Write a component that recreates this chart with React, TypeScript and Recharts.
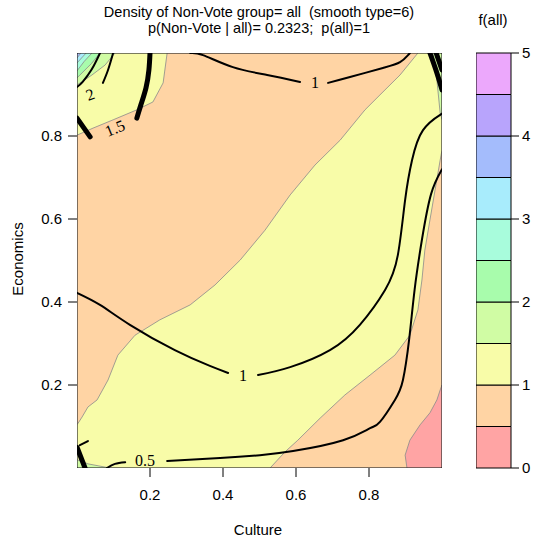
import React from 'react';
import { ComposedChart, Scatter, XAxis, YAxis, BarChart, Bar, Curve } from 'recharts';

// level colours, 0 -> 5 in steps of 0.5
const LEVEL_COLORS = ['#FFA4A4', '#FFD4A4', '#F8FCA8', '#D0FCA4', '#A8FCAC', '#A8FCDC', '#A8ECFC', '#A4BCFC', '#B8A4FC', '#ECA8FC'];
const LEVEL_TICKS = [0, 1, 2, 3, 4, 5];
const AXIS_TICKS = [0.2, 0.4, 0.6, 0.8];

// filled regions [x, y] in data units (Culture, Economics)
const panel = [[0, 0], [1, 0], [1, 1], [0, 1]];
const yellowBand = [
  [0, 0.104], [0.014, 0.123], [0.03, 0.147], [0.055, 0.164], [0.085, 0.212], [0.112, 0.272], [0.159, 0.32],
  [0.227, 0.357], [0.31, 0.393], [0.378, 0.441], [0.447, 0.501], [0.515, 0.573], [0.584, 0.658], [0.652, 0.73],
  [0.721, 0.79], [0.789, 0.863], [0.83, 0.899], [0.885, 0.947], [0.934, 1], [1, 1], [1, 0.766],
  [0.995, 0.742], [0.981, 0.67], [0.967, 0.598], [0.953, 0.525], [0.945, 0.453], [0.934, 0.381], [0.912, 0.32],
  [0.871, 0.272], [0.803, 0.224], [0.734, 0.176], [0.666, 0.12], [0.605, 0.067], [0.57, 0.039], [0.529, 0], [0, 0],
];
const yellowTopLeft = [
  [0, 1], [0.247, 1], [0.236, 0.928], [0.208, 0.882], [0.164, 0.863], [0.099, 0.839], [0.044, 0.819], [0, 0.802],
];
const greenTopLeft = [[0, 1], [0.104, 1], [0.077, 0.971], [0.041, 0.947], [0, 0.923]];
const green2TopLeft = [[0, 1], [0.063, 1], [0.04, 0.975], [0, 0.94]];
const aquaTopLeft = [[0, 1], [0.041, 1], [0.02, 0.98], [0, 0.957]];
const cyanTopLeft = [[0, 1], [0.025, 1], [0, 0.976]];
const blueTopLeft = [[0, 1], [0.011, 1], [0, 0.988]];
const greenTopRight = [[0.975, 1], [1, 1], [1, 0.84], [0.995, 0.855], [0.986, 0.935]];
const greenBottomLeft = [[0, 0], [0, 0.02], [0.03, 0.01], [0.06, 0.005], [0.09, 0]];
const pinkBottomRight = [
  [0.904, 0], [0.899, 0.031], [0.912, 0.067], [0.94, 0.104], [0.967, 0.133], [0.986, 0.164], [0.995, 0.188], [1, 0.2], [1, 0],
];

const regions = [
  { pts: panel, level: 1 },
  { pts: yellowBand, level: 2 },
  { pts: yellowTopLeft, level: 2 },
  { pts: greenTopLeft, level: 3 },
  { pts: green2TopLeft, level: 4 },
  { pts: aquaTopLeft, level: 5 },
  { pts: cyanTopLeft, level: 6 },
  { pts: blueTopLeft, level: 7 },
  { pts: greenTopRight, level: 3 },
  { pts: greenBottomLeft, level: 3 },
  { pts: pinkBottomRight, level: 0 },
];

// contour lines
const line1Top = [
  [0.31, 1], [0.345, 0.995], [0.427, 0.966], [0.521, 0.947], [0.611, 0.93],
];
const line1TopB = [
  [0.688, 0.928], [0.748, 0.942], [0.838, 0.964], [0.885, 0.978], [0.907, 0.995], [0.912, 1],
];
const line1MidA = [
  [0, 0.422], [0.063, 0.393], [0.145, 0.345], [0.268, 0.284], [0.364, 0.246], [0.414, 0.229],
];
const line1MidB = [
  [0.496, 0.224], [0.584, 0.243], [0.693, 0.284], [0.775, 0.345], [0.844, 0.429], [0.879, 0.513],
  [0.899, 0.646], [0.918, 0.742], [0.948, 0.814], [0.995, 0.851], [1, 0.853],
];
const line05A = [[0.082, 0], [0.104, 0.01], [0.132, 0.014]];
const line05B = [
  [0.247, 0.017], [0.392, 0.024], [0.501, 0.031], [0.592, 0.041], [0.729, 0.067], [0.803, 0.096],
  [0.83, 0.111], [0.871, 0.164], [0.893, 0.212], [0.91, 0.31], [0.925, 0.43], [0.945, 0.55], [0.97, 0.66], [1, 0.72],
];
const line2 = [[0.099, 1], [0.085, 0.959], [0.071, 0.928]];
const line25 = [[0.063, 1], [0.04, 0.96], [0.015, 0.93], [0, 0.918]];
const line15A = [[0, 0.843], [0.036, 0.798]];
const line15B = [[0.164, 0.843], [0.175, 0.875], [0.189, 0.916], [0.197, 0.959], [0.2, 1]];
const lineTR1 = [[0.967, 1], [0.986, 0.952], [1, 0.911]];
const lineTR2 = [[0.984, 1], [1, 0.959]];
const lineBL1 = [[0, 0.05], [0.022, 0]];
const lineBL2 = [[0.008, 0.055], [0.03, 0.065]];

const thinLines = [line1Top, line1TopB, line1MidA, line1MidB, line05A, line05B, line2, line25, lineBL2];
const thickLines = [line15A, line15B, lineTR1, lineTR2, lineBL1];

const contourLabels = [
  { x: 0.652, y: 0.928, t: '1', a: 0 },
  { x: 0.455, y: 0.222, t: '1', a: 0 },
  { x: 0.186, y: 0.017, t: '0.5', a: 0 },
  { x: 0.104, y: 0.819, t: '1.5', a: -22 },
  { x: 0.036, y: 0.9, t: '2', a: -20 },
];

const colorBarRow = [{ k: 'f', b0: 0.5, b1: 0.5, b2: 0.5, b3: 0.5, b4: 0.5, b5: 0.5, b6: 0.5, b7: 0.5, b8: 0.5, b9: 0.5 }];

const toPts = (a: number[][]) => a.map(([x, y]) => ({ x, y }));
const noDot = () => <g />;
const SANS = 'Liberation Sans, Arial, sans-serif';

const fillShape = (fill: string, stroke: string) => (p: any) => (
  <Curve points={p.points} type="linearClosed" fill={fill} stroke={stroke} strokeWidth={0.8} />
);

const ContourLabel = (props: any) => {
  const { cx, cy, payload } = props;
  return (
    <text x={cx} y={cy} transform={`rotate(${payload.a} ${cx} ${cy})`} textAnchor="middle" dominantBaseline="central"
      fontFamily="Liberation Serif, Times New Roman, serif" fontSize={16} fill="#000">{payload.t}</text>
  );
};

export default function App() {
  const tickStyle = { fontSize: 15, fontFamily: SANS, fill: '#000' };
  return (
    <div style={{ position: 'absolute', left: 0, top: 0, width: 540, height: 546, background: '#fff' }}>
      <div style={{ position: 'absolute', left: 0, top: 0 }}>
        <ComposedChart width={460} height={546} margin={{ top: 43, right: 8, bottom: 40, left: 37 }}>
          <XAxis xAxisId={0} type="number" dataKey="x" domain={[0, 1]} ticks={AXIS_TICKS} allowDataOverflow
            tick={tickStyle} tickSize={9} tickMargin={12} axisLine={false} tickLine={{ stroke: '#000' }} height={38} />
          <XAxis xAxisId="top" orientation="top" type="number" dataKey="x" domain={[0, 1]} ticks={AXIS_TICKS} allowDataOverflow
            tick={false} tickSize={5} axisLine={false} tickLine={{ stroke: '#000' }} height={10} />
          <YAxis yAxisId={0} type="number" dataKey="y" domain={[0, 1]} ticks={AXIS_TICKS} allowDataOverflow
            tick={tickStyle} tickSize={9} tickMargin={6} axisLine={false} tickLine={{ stroke: '#000' }} width={40} />
          <YAxis yAxisId="right" orientation="right" type="number" dataKey="y" domain={[0, 1]} ticks={AXIS_TICKS} allowDataOverflow
            tick={false} tickSize={5} axisLine={false} tickLine={{ stroke: '#000' }} width={10} />
          {regions.map((r, i) => (
            <Scatter key={`r${i}`} data={toPts(r.pts)} shape={noDot} line={fillShape(LEVEL_COLORS[r.level], '#8a8a8a')}
              lineType="joint" isAnimationActive={false} />
          ))}
          {thinLines.map((l, i) => (
            <Scatter key={`t${i}`} data={toPts(l)} shape={noDot} line={{ stroke: '#000', strokeWidth: 2, strokeLinecap: 'round' }}
              lineType="joint" lineJointType="natural" isAnimationActive={false} />
          ))}
          {thickLines.map((l, i) => (
            <Scatter key={`k${i}`} data={toPts(l)} shape={noDot} line={{ stroke: '#000', strokeWidth: 5, strokeLinecap: 'round' }}
              lineType="joint" lineJointType="natural" isAnimationActive={false} />
          ))}
          <Scatter data={contourLabels} shape={ContourLabel} isAnimationActive={false} />
          <Scatter xAxisId="top" yAxisId="right" data={toPts(panel)} shape={noDot} line={fillShape('none', '#000')}
            lineType="joint" isAnimationActive={false} />
        </ComposedChart>
      </div>
      <div style={{ position: 'absolute', left: 476, top: 0 }}>
        <BarChart width={64} height={546} data={colorBarRow} margin={{ top: 53, right: 0, bottom: 78, left: 0 }} barCategoryGap={0}>
          <XAxis dataKey="k" hide />
          <YAxis orientation="right" type="number" domain={[0, 5]} ticks={LEVEL_TICKS} width={29} tick={tickStyle}
            tickSize={8} tickMargin={3} axisLine={false} tickLine={{ stroke: '#000' }} />
          {LEVEL_COLORS.map((c, i) => (
            <Bar key={c} dataKey={`b${i}`} stackId="s" fill={c} stroke="#000" strokeWidth={1} isAnimationActive={false} />
          ))}
        </BarChart>
      </div>
      <svg width={540} height={546} style={{ position: 'absolute', left: 0, top: 0, pointerEvents: 'none' }}>
        <g fontFamily={SANS} fill="#000" textAnchor="middle">
          <text x={259} y={17} fontSize={14.5} xmlSpace="preserve">Density of Non-Vote group= all  (smooth type=6)</text>
          <text x={259} y={33} fontSize={14.5} xmlSpace="preserve">p(Non-Vote | all)= 0.2323;  p(all)=1</text>
          <text x={493} y={25} fontSize={15}>f(all)</text>
          <text x={258} y={535} fontSize={15}>Culture</text>
          <text x={23} y={259} fontSize={15} transform="rotate(-90 23 259)">Economics</text>
        </g>
      </svg>
    </div>
  );
}
